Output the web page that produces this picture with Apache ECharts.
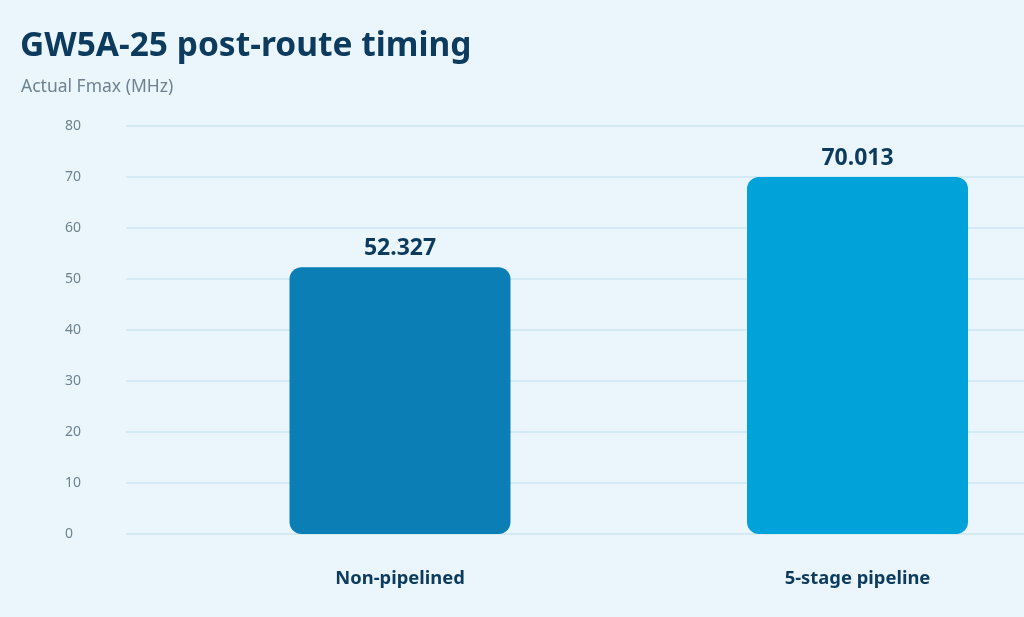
<!DOCTYPE html>
<html><head><meta charset="utf-8">
<script src="https://cdn.jsdelivr.net/npm/echarts@6/dist/echarts.min.js"></script>
<style>html,body{margin:0;padding:0;background:#eaf6fc;overflow:hidden}#c{width:1087px;height:617px}</style>
</head><body><div id="c"></div>
<script>
const categories = ['Non-pipelined', '5-stage pipeline'];
const fmaxValues = [52.327, 70.013];
const barColors = ['#0b7fb5', '#00a3d9'];
const yTicks = { min: 0, max: 80, interval: 10 };

const chart = echarts.init(document.getElementById('c'));
const font = '"Noto Sans", "Open Sans", sans-serif';
chart.setOption({
  backgroundColor: '#eaf6fc',
  animation: false,
  title: [
    { text: 'GW5A-25 post-route timing', left: 15, top: 24,
      textStyle: { fontFamily: font, fontWeight: 'bold', fontSize: 33.5, color: '#0d3b5e' } },
    { text: 'Actual Fmax (MHz)', left: 16, top: 73,
      textStyle: { fontFamily: font, fontWeight: 'normal', fontSize: 17.5, color: '#6e8291' } }
  ],
  grid: [
    { left: 126, right: 63, top: 126, bottom: 83 },
    { left: 171.25, width: 915, top: 126, bottom: 83 }
  ],
  xAxis: [
    { type: 'category', gridIndex: 0, data: categories, show: false },
    { type: 'category', gridIndex: 1, data: categories,
      axisLine: { show: false }, axisTick: { show: false },
      axisLabel: { margin: 36, fontFamily: font, fontWeight: 'bold', fontSize: 18.4, color: '#0d3b5e' } }
  ],
  yAxis: [
    { type: 'value', gridIndex: 0, min: yTicks.min, max: yTicks.max, interval: yTicks.interval,
      axisLine: { show: false }, axisTick: { show: false },
      splitLine: { lineStyle: { color: '#cde6f2', width: 1.5 } },
      axisLabel: { align: 'left', margin: 61, fontFamily: font, fontSize: 14, color: '#6e8291' } },
    { type: 'value', gridIndex: 1, min: yTicks.min, max: yTicks.max, interval: yTicks.interval, show: false,
      splitLine: { show: false } }
  ],
  series: [{
    type: 'bar', xAxisIndex: 1, yAxisIndex: 1, barWidth: 221,
    data: fmaxValues.map((v, i) => ({ value: v, itemStyle: { color: barColors[i] } })),
    itemStyle: { borderRadius: 12 },
    label: { show: true, position: 'top', distance: 7, formatter: p => p.value.toFixed(3),
      fontFamily: font, fontWeight: 'bold', fontSize: 23, color: '#0d3b5e' }
  }]
});
</script></body></html>
